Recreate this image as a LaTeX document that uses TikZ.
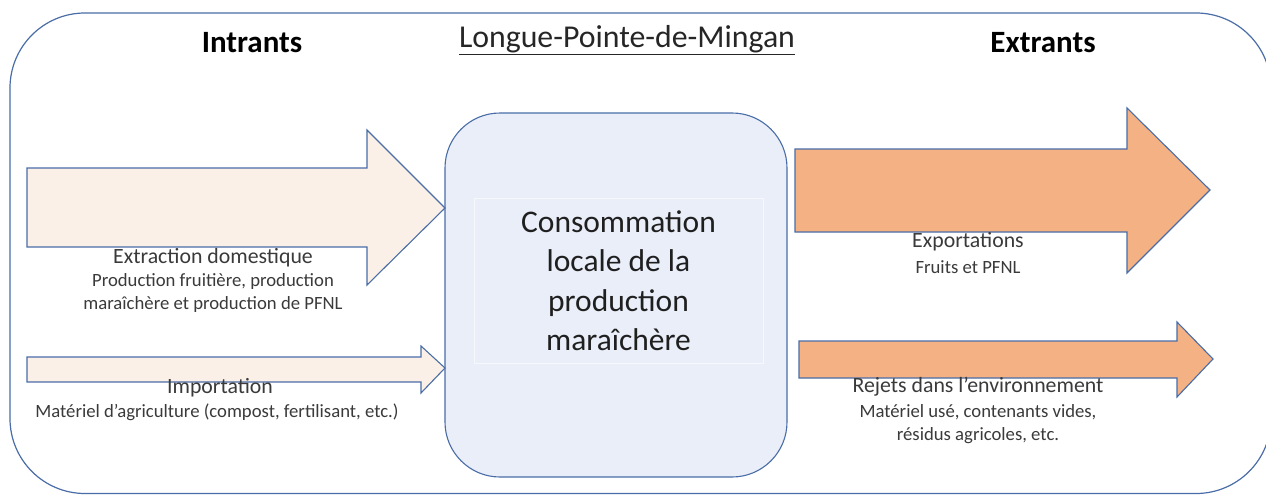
\documentclass[tikz,border=0pt]{standalone}
\usepackage{fontspec}
\setmainfont{Carlito}
\usepackage{xcolor}
\usepackage{tikz}
\usetikzlibrary{calc,positioning}

\definecolor{bordbleu}{HTML}{4A6DA7}
\definecolor{peche}{HTML}{FBF0E8}
\definecolor{orange}{HTML}{F4B183}
\definecolor{bleupale}{HTML}{E9EEF8}
\definecolor{gristexte}{HTML}{3A3A3A}

\tikzset{
    cadre/.style={draw=bordbleu, line width=1.2pt, rounded corners=75pt},
    intrant/.style={draw=bordbleu, fill=peche, line width=1.1pt, line join=miter},
    extrant/.style={draw=bordbleu, fill=orange, line width=1.1pt, line join=miter},
    titre/.style={font=\fontsize{31}{38}\selectfont\bfseries, text=black},
    flux/.style={font=\fontsize{21.8}{25}\selectfont, text=gristexte, inner sep=0pt},
    detail/.style={font=\fontsize{18.7}{22.8}\selectfont, text=gristexte, align=center, inner sep=0pt},
}

\begin{document}
\begin{tikzpicture}[x=1pt,y=-1pt]

    \useasboundingbox (0,0) rectangle (1266,495);

    % Cadre
    \draw[cadre] (10,13) rectangle (1271,493.5);

    % Titres
    \node[titre] (intr) at (252,43) {Intrants};
    \node[titre] (extr) at (1043,43) {Extrants};
    \node[font=\fontsize{31.8}{38}\selectfont, text=black!85] (lieu) at (627,40) {\underline{Longue-Pointe-de-Mingan}};

    % Consommation locale
    \node[draw=bordbleu, fill=bleupale, line width=1.1pt, rounded corners=55pt,
          minimum width=342pt, minimum height=364pt] (conso) at (616,295) {};
    \node[draw=white!60!bleupale, line width=0.8pt, minimum width=289pt, minimum height=165pt,
          align=center, font=\fontsize{31.5}{39.5}\selectfont, text=black!88] (texte) at (618.5,280.5)
          {Consommation\\locale de la\\production\\maraîchère};

    % Intrants: fleches
    \draw[intrant] (27,168) -- (367,168) -- (367,130) -- (445,208) -- (367,285) -- (367,247) -- (27,247) -- cycle;
    \draw[intrant] (27,357) -- (421,357) -- (421,346) -- (445,368) -- (421,393) -- (421,382) -- (27,382) -- cycle;

    % Extrants: fleches
    \draw[extrant] (795,149) -- (1127,149) -- (1127,108) -- (1210,190) -- (1127,273) -- (1127,232) -- (795,232) -- cycle;
    \draw[extrant] (799,341) -- (1177,341) -- (1177,322) -- (1213,359) -- (1177,397) -- (1177,378) -- (799,378) -- cycle;

    % Etiquettes
    \node[flux] (extrdom) at (213,258) {Extraction domestique};
    \node[detail] (extrdet) at (213,293) {Production fruitière, production\\maraîchère et production de PFNL};

    \node[flux] (import) at (220,388) {Importation};
    \node[detail] (impdet) at (217,412) {Matériel d’agriculture (compost, fertilisant, etc.)};

    \node[flux] (export) at (968,242) {Exportations};
    \node[detail] (expdet) at (968,267) {Fruits et PFNL};

    \node[flux] (rejets) at (978,387) {Rejets dans l’environnement};
    \node[detail] (rejdet) at (978,424) {Matériel usé, contenants vides,\\résidus agricoles, etc.};

\end{tikzpicture}
\end{document}
